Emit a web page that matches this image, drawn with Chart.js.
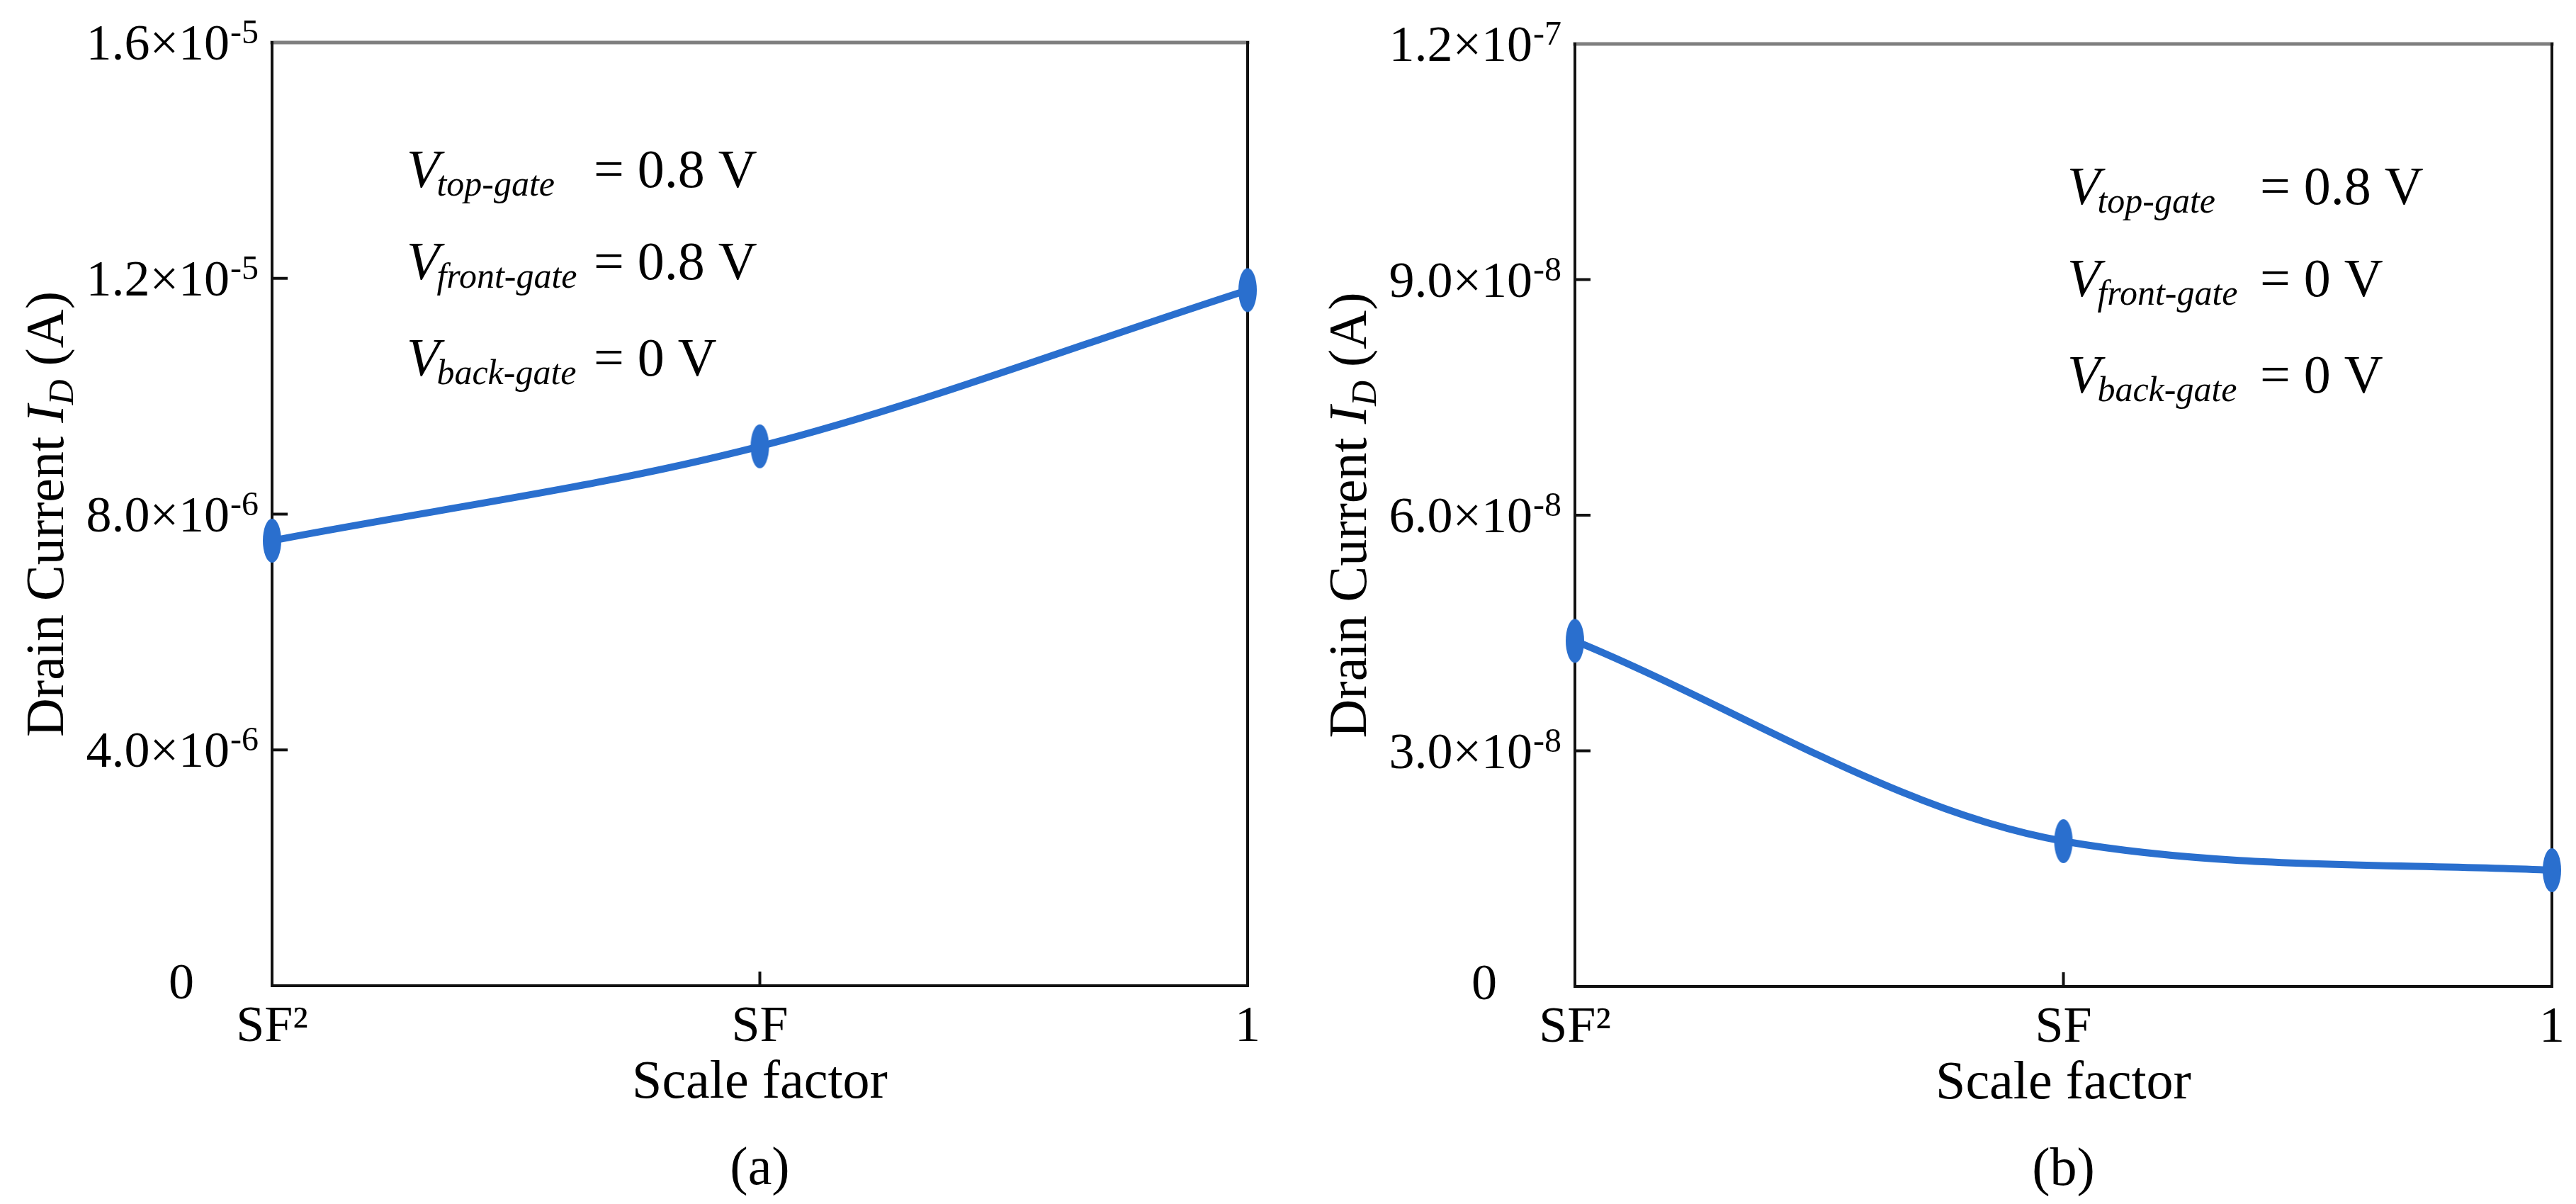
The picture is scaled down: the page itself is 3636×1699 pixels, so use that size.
<!DOCTYPE html>
<html>
<head>
<meta charset="utf-8">
<script src="https://cdn.jsdelivr.net/npm/chart.js@4.4.1/dist/chart.umd.min.js"></script>
<style>
  html, body { margin: 0; padding: 0; background: #fff; }
  #wrap { position: relative; width: 3636px; height: 1699px; background: #fff; }
  canvas { position: absolute; top: 0; }
  #chartA { left: 0; }
  #chartB { left: 1818px; }
</style>
</head>
<body>
<div id="wrap">
  <canvas id="chartA" width="1818" height="1699"></canvas>
  <canvas id="chartB" width="1818" height="1699"></canvas>
</div>
<script>
// data
const scaleFactors = ['SF²', 'SF', '1'];
const currentA = [7.55e-6, 9.15e-6, 1.18e-5];
const currentB = [4.4e-8, 1.85e-8, 1.48e-8];
const yTicksA = [0, 4e-6, 8e-6, 1.2e-5, 1.6e-5];
const yTickLabelsA = ['0', '4.0×10^-6', '8.0×10^-6', '1.2×10^-5', '1.6×10^-5'];
const yTicksB = [0, 3e-8, 6e-8, 9e-8, 1.2e-7];
const yTickLabelsB = ['0', '3.0×10^-8', '6.0×10^-8', '9.0×10^-8', '1.2×10^-7'];
const biasA = [['top-gate', '0.8 V'], ['front-gate', '0.8 V'], ['back-gate', '0 V']];
const biasB = [['top-gate', '0.8 V'], ['front-gate', '0 V'], ['back-gate', '0 V']];

const BLUE = '#2a6fce';
const SERIF = '"Liberation Serif", "Times New Roman", serif';

function font(size, italic) {
    return (italic ? 'italic ' : '') + size + 'px ' + SERIF;
}

// tall oval marker like the original
function makeMarker() {
    const c = document.createElement('canvas');
    c.width = 28;
    c.height = 64;
    const g = c.getContext('2d');
    g.fillStyle = BLUE;
    g.beginPath();
    g.ellipse(14, 32, 13, 31, 0, 0, Math.PI * 2);
    g.fill();
    return c;
}
const marker = makeMarker();

// frame, inward ticks and all the figure text
function textPlugin(cfg) {
    return {
        id: 'figureText',
        beforeDatasetsDraw(chart) {
            const a = chart.chartArea, ctx = chart.ctx;
            const x = chart.scales.x, y = chart.scales.y;
            ctx.save();
            ctx.strokeStyle = '#111';
            ctx.lineWidth = 4;
            ctx.beginPath();
            y.ticks.forEach(t => {
                const py = y.getPixelForValue(t.value);
                ctx.moveTo(a.left, py);
                ctx.lineTo(a.left + 22, py);
            });
            x.ticks.forEach((t, i) => {
                const px = x.getPixelForTick(i);
                ctx.moveTo(px, a.bottom);
                ctx.lineTo(px, a.bottom - 20);
            });
            ctx.stroke();

            ctx.lineCap = 'square';
            ctx.strokeStyle = '#7f7f7f';
            ctx.lineWidth = 5;
            ctx.beginPath();
            ctx.moveTo(a.left, a.top);
            ctx.lineTo(a.right, a.top);
            ctx.stroke();
            ctx.strokeStyle = '#111';
            ctx.lineWidth = 4;
            ctx.beginPath();
            ctx.moveTo(a.left, a.top);
            ctx.lineTo(a.left, a.bottom);
            ctx.lineTo(a.right, a.bottom);
            ctx.lineTo(a.right, a.top);
            ctx.stroke();
            ctx.restore();
        },
        afterDraw(chart) {
            const a = chart.chartArea, ctx = chart.ctx;
            const x = chart.scales.x, y = chart.scales.y;
            const cx = (a.left + a.right) / 2;
            ctx.save();
            ctx.fillStyle = '#000';
            ctx.textBaseline = 'alphabetic';
            ctx.textAlign = 'left';

            // y tick labels with superscript exponent
            y.ticks.forEach((t, i) => {
                const py = y.getPixelForValue(t.value);
                const parts = cfg.yLabels[i].split('^');
                ctx.font = font(72);
                const wm = ctx.measureText(parts[0]).width;
                if (parts.length === 1) {
                    ctx.fillText(parts[0], a.left - 110 - wm, py + 18);
                    return;
                }
                ctx.font = font(48);
                const ws = ctx.measureText(parts[1]).width;
                const x0 = a.left - 20 - ws - wm;
                ctx.font = font(72);
                ctx.fillText(parts[0], x0, py + 24);
                ctx.font = font(48);
                ctx.fillText(parts[1], x0 + wm + 1, py + 1);
            });

            // x tick labels
            ctx.textAlign = 'center';
            ctx.font = font(72);
            x.ticks.forEach((t, i) => {
                ctx.fillText(scaleFactors[i], x.getPixelForTick(i), a.bottom + 78);
            });

            // x title and panel tag
            ctx.font = font(76);
            ctx.fillText('Scale factor', cx, a.bottom + 158);
            ctx.fillText(cfg.tag, cx, a.bottom + 280);

            // y title, rotated
            const pieces = [
                ['Drain Current ', font(76), 0],
                ['I', font(76, true), 0],
                ['D', font(50, true), 14],
                [' (A)', font(76), 0]
            ];
            let total = 0;
            pieces.forEach(p => { ctx.font = p[1]; total += ctx.measureText(p[0]).width; });
            ctx.save();
            ctx.translate(a.left - 295, (a.top + a.bottom) / 2);
            ctx.rotate(-Math.PI / 2);
            ctx.textAlign = 'left';
            let px = -total / 2;
            pieces.forEach(p => {
                ctx.font = p[1];
                ctx.fillText(p[0], px, p[2]);
                px += ctx.measureText(p[0]).width;
            });
            ctx.restore();

            // bias annotation
            ctx.textAlign = 'left';
            cfg.bias.forEach((b, i) => {
                const by = cfg.noteY[i];
                const bx = a.left + cfg.noteX;
                ctx.font = font(76, true);
                ctx.fillText('V', bx, by);
                const wv = ctx.measureText('V').width;
                ctx.font = font(50, true);
                ctx.fillText(b[0], bx + wv - 4, by + 12);
                ctx.font = font(76);
                ctx.fillText('= ' + b[1], a.left + cfg.eqX, by);
            });
            ctx.restore();
        }
    };
}

function makeChart(id, values, yTicks, yMax, box, text) {
    return new Chart(document.getElementById(id), {
        type: 'line',
        data: {
            labels: scaleFactors,
            datasets: [{
                data: values,
                borderColor: BLUE,
                backgroundColor: BLUE,
                borderWidth: 10,
                cubicInterpolationMode: 'monotone',
                pointStyle: marker,
                pointRadius: 14,
                clip: false
            }]
        },
        options: {
            responsive: false,
            animation: false,
            events: [],
            layout: { padding: { top: box.top, right: box.right, left: 0, bottom: 0 } },
            plugins: {
                legend: { display: false },
                tooltip: { enabled: false }
            },
            scales: {
                x: {
                    type: 'category',
                    offset: false,
                    grid: { display: false },
                    border: { display: false },
                    ticks: { display: false },
                    afterFit: s => { s.height = box.xh; }
                },
                y: {
                    min: 0,
                    max: yMax,
                    grid: { display: false },
                    border: { display: false },
                    ticks: { display: false },
                    afterBuildTicks: s => { s.ticks = yTicks.map(v => ({ value: v })); },
                    afterFit: s => { s.width = box.yw; }
                }
            }
        },
        plugins: [textPlugin(text)]
    });
}

const chartA = makeChart('chartA', currentA, yTicksA, 1.6e-5,
    { top: 60, right: 57, xh: 308, yw: 384 },
    { yLabels: yTickLabelsA, bias: biasA, tag: '(a)', noteX: 190, eqX: 454, noteY: [264, 394, 530] });

const chartB = makeChart('chartB', currentB, yTicksB, 1.2e-7,
    { top: 62, right: 34, xh: 307, yw: 405 },
    { yLabels: yTickLabelsB, bias: biasB, tag: '(b)', noteX: 695, eqX: 967, noteY: [288, 418, 554] });
</script>
</body>
</html>
